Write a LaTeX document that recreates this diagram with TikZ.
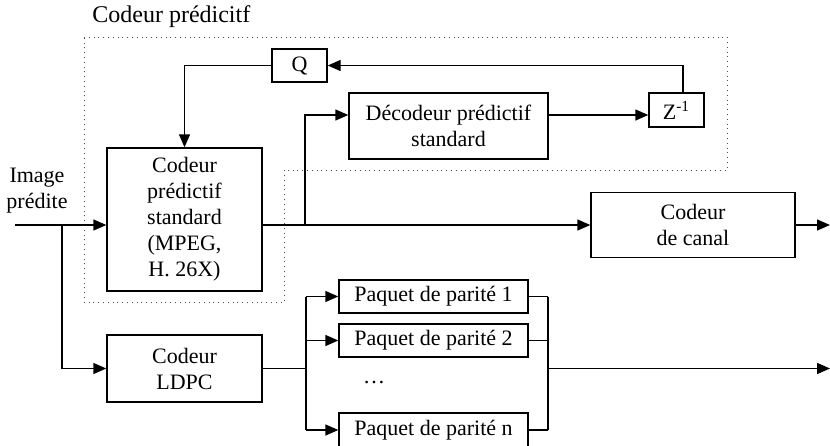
\documentclass[tikz,border=0pt]{standalone}
\usepackage{fontspec}
\setmainfont{Liberation Serif}
\usetikzlibrary{arrows.meta}

\begin{document}
\begin{tikzpicture}[
    x = 0.5pt, y = -0.5pt, % pixel grid, y pointing down
    > = {Triangle[length=6.5pt,width=5.5pt]}, % arrow head style
    line width = 0.7pt, % line style
    font = \fontsize{11}{13}\selectfont
]
\tikzstyle{block}=[
    draw = black,
    align = center,
    inner sep = 1pt
]
\tikzstyle{frame}=[
    draw = black!70,
    dotted,
    thin
]

\useasboundingbox (0,0) rectangle (830,445);

% predictive coder frame
\draw[frame] (84,37) -- (727,37) -- (727,170) -- (284,170) -- (284,302) -- (84,302) -- cycle;
\node[anchor=west, font=\fontsize{12}{14}\selectfont] (title) at (85,17) {Codeur prédicitf};

\node[align=center, inner sep=0pt] (img) at (37,191) {Image\\prédite};
\node[block, minimum width=77.5pt, minimum height=71.5pt] (cps) at (184.5,219.5) {Codeur\\prédictif\\standard\\(MPEG,\\H. 26X)};
\node[block, minimum width=27.5pt, minimum height=16.5pt] (q) at (299.5,65.5) {Q};
\node[block, minimum width=99.5pt, minimum height=33pt] (dec) at (448.5,126) {Décodeur prédictif\\standard};
\node[block, minimum width=27.5pt, minimum height=17pt] (zinv) at (676.5,110) {Z\textsuperscript{-1}};
\node[block, minimum width=102pt, minimum height=32.5pt] (canal) at (693,225) {Codeur\\de canal};
\node[block, minimum width=77.5pt, minimum height=33.5pt] (ldpc) at (184.5,368.5) {Codeur\\LDPC};
\node[block, minimum width=94.5pt, minimum height=16.5pt] (p1) at (433.5,296.5) {Paquet de parité 1};
\node[block, minimum width=94.5pt, minimum height=16.5pt] (p2) at (433.5,340.5) {Paquet de parité 2};
\node (dots) at (374,383) {\ldots};
\node[block, minimum width=94.5pt, minimum height=17pt] (pn) at (433.5,430) {Paquet de parité n};

\coordinate (in) at (15,225);
\coordinate (split) at (62,225);
\coordinate (tap) at (305,225);
\coordinate (dtap) at (305,115);
\coordinate (back) at (683,65.5);
\coordinate (out1) at (830,225);
\coordinate (fork) at (306,368.5);
\coordinate (merge) at (548,368.5);
\coordinate (out2) at (830,368.5);

\draw[->] (in) -- (in -| cps.west);
\draw[->] (split) |- (ldpc.west);
\draw[->] (cps.east |- canal) -- (canal.west);
\draw[->] (tap) -- (dtap) -- (dtap -| dec.west);
\draw[->] (dtap -| dec.east) -- (dtap -| zinv.west);
\draw[->] (zinv.north -| back) -- (back) -- (q.east);
\draw[->] (q.west) -| (cps.north);
\draw[->] (canal.east) -- (out1);

\draw (ldpc.east) -- (fork);
\draw (fork |- p1) -- (fork |- pn);
\draw[->] (fork |- p1) -- (p1.west);
\draw[->] (fork |- p2) -- (p2.west);
\draw[->] (fork |- pn) -- (pn.west);
\draw (p1.east) -- (merge |- p1);
\draw (p2.east) -- (merge |- p2);
\draw (pn.east) -- (merge |- pn);
\draw (merge |- p1) -- (merge |- pn);
\draw[->] (merge) -- (out2);

\end{tikzpicture}
\end{document}
